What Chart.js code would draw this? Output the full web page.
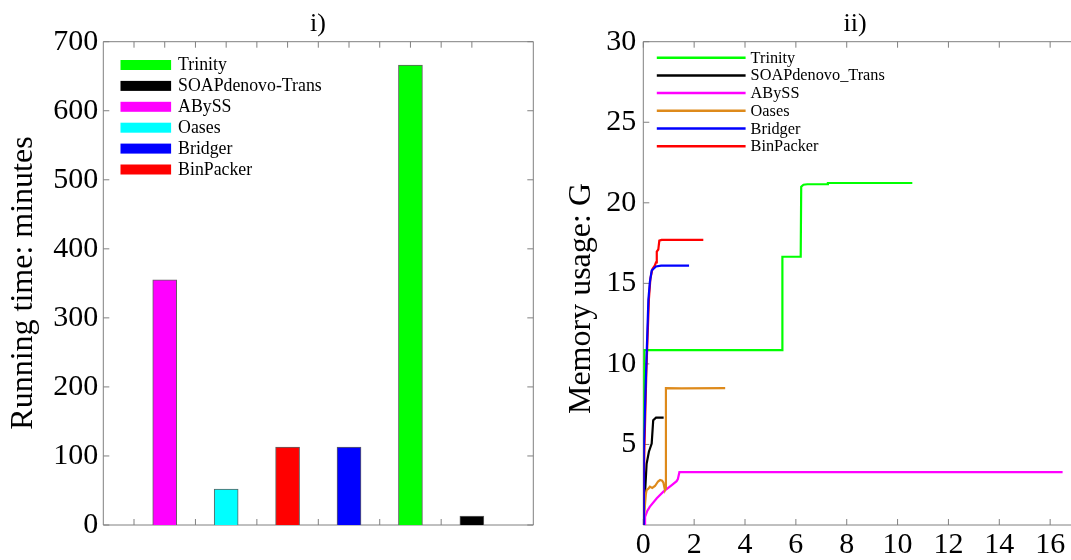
<!DOCTYPE html>
<html>
<head>
<meta charset="utf-8">
<script src="https://cdn.jsdelivr.net/npm/chart.js@4.4.1/dist/chart.umd.min.js"></script>
<style>
  html, body { margin: 0; padding: 0; background: #fff; overflow: hidden; width: 1071px; height: 560px; }
  #timeChart { position: absolute; left: 0; top: 0; }
  #memChart { position: absolute; left: 540px; top: 0; }
</style>
</head>
<body>
<canvas id="timeChart" width="540" height="560"></canvas>
<canvas id="memChart" width="561" height="560"></canvas>
<script>
const serif = '"Liberation Serif", "Times New Roman", serif';

// panel i) running time
const tools = ['Trinity', 'SOAPdenovo-Trans', 'ABySS', 'Oases', 'Bridger', 'BinPacker'];
const barColors = ['#00ff00', '#000000', '#ff00ff', '#00ffff', '#0000ff', '#ff0000'];
const runMinutes = [666, 13, 355, 52, 113, 113];
const barSlot = [5, 6, 1, 2, 4, 3];
const timeTicks = [0, 100, 200, 300, 400, 500, 600, 700];
const slotTicks = [0.5, 1, 1.5, 2, 2.5, 3, 3.5, 4, 4.5, 5, 5.5, 6];

// panel ii) memory usage, [hours, G]
const memTools = ['Trinity', 'SOAPdenovo_Trans', 'ABySS', 'Oases', 'Bridger', 'BinPacker'];
const lineColors = ['#00ff00', '#000000', '#ff00ff', '#de8a1b', '#0000ff', '#ff0000'];
const trinityMem = [[0, 0], [0.02, 6.5], [0.04, 10.85], [5.46, 10.85], [5.47, 16.65], [6.19, 16.65], [6.21, 21.0], [6.3, 21.12], [6.45, 21.15], [7.24, 21.15], [7.26, 21.23], [10.58, 21.23]];
const soapMem = [[0, 0], [0.13, 3.8], [0.22, 4.55], [0.33, 5.05], [0.39, 6.5], [0.5, 6.66], [0.8, 6.66]];
const abyssMem = [[0.07, 0], [0.07, 0.5], [0.15, 0.85], [0.26, 1.14], [0.53, 1.66], [0.79, 2.07], [1.12, 2.48], [1.31, 2.72], [1.36, 2.85], [1.42, 3.28], [16.49, 3.28]];
const oasesMem = [[0, 0], [0.1, 1.9], [0.13, 2.17], [0.2, 2.25], [0.26, 2.38], [0.35, 2.3], [0.46, 2.42], [0.58, 2.7], [0.66, 2.79], [0.74, 2.75], [0.79, 2.63], [0.85, 2.17], [0.88, 2.3], [0.89, 8.49], [1.5, 8.48], [3.22, 8.5]];
const bridgerMem = [[0, 0], [0.02, 4.7], [0.1, 9], [0.2, 14], [0.26, 15.1], [0.33, 15.8], [0.5, 16.05], [0.7, 16.1], [1.8, 16.1]];
const binpackerMem = [[0, 0], [0.04, 4.5], [0.12, 9.5], [0.22, 14], [0.28, 15.3], [0.36, 15.9], [0.45, 16.1], [0.5, 16.3], [0.53, 16.97], [0.59, 17.1], [0.63, 17.65], [0.72, 17.7], [2.36, 17.7]];
const memSeries = [trinityMem, soapMem, abyssMem, oasesMem, bridgerMem, binpackerMem];
const memTicks = [5, 10, 15, 20, 25, 30];
const hourTicks = [0, 2, 4, 6, 8, 10, 12, 14, 16];

// box with inward tick marks, matlab style
function makeFrame(xTicks, yTicks) {
  return {
    id: 'frame',
    beforeDatasetsDraw(chart) {
      const { ctx, chartArea: a, scales: { x, y } } = chart;
      const t = 6;
      ctx.save();
      ctx.strokeStyle = '#808080';
      ctx.lineWidth = 1;
      ctx.beginPath();
      ctx.moveTo(a.left, a.bottom);
      ctx.lineTo(a.left, a.top);
      ctx.lineTo(a.right, a.top);
      ctx.lineTo(a.right, a.bottom);
      ctx.closePath();
      xTicks.forEach(v => {
        const px = x.getPixelForValue(v);
        ctx.moveTo(px, a.bottom); ctx.lineTo(px, a.bottom - t);
        ctx.moveTo(px, a.top); ctx.lineTo(px, a.top + t);
      });
      yTicks.forEach(v => {
        const py = y.getPixelForValue(v);
        ctx.moveTo(a.left, py); ctx.lineTo(a.left + t, py);
        ctx.moveTo(a.right, py); ctx.lineTo(a.right - t, py);
      });
      ctx.stroke();
      ctx.restore();
    }
  };
}

// panel title, rotated axis title and the legend inside the box
function makeNotes(o) {
  return {
    id: 'notes',
    afterDraw(chart) {
      const ctx = chart.ctx;
      ctx.save();
      ctx.fillStyle = '#000';
      ctx.textBaseline = 'alphabetic';
      ctx.textAlign = 'center';
      ctx.font = '26px ' + serif;
      ctx.fillText(o.title, o.titleX, 30.5);

      ctx.save();
      ctx.translate(o.yTitleX, o.yTitleY);
      ctx.rotate(-Math.PI / 2);
      ctx.font = '32px ' + serif;
      ctx.fillText(o.yTitle, 0, 0);
      ctx.restore();

      ctx.textAlign = 'left';
      ctx.font = o.legendSize + 'px ' + serif;
      chart.data.datasets.forEach((ds, i) => {
        const yy = o.legendTop + i * o.legendGap;
        if (o.boxes) {
          ctx.fillStyle = ds.backgroundColor;
          ctx.fillRect(o.legendX, yy - 5, o.swatchW, 10);
        } else {
          ctx.strokeStyle = ds.borderColor;
          ctx.lineWidth = 2.5;
          ctx.beginPath();
          ctx.moveTo(o.legendX, yy);
          ctx.lineTo(o.legendX + o.swatchW, yy);
          ctx.stroke();
        }
        ctx.fillStyle = '#000';
        ctx.fillText(ds.label, o.legendX + o.swatchW + o.textGap, yy + 5);
      });
      ctx.restore();
    }
  };
}

const tickFont = { family: serif, size: 30 };

new Chart(document.getElementById('timeChart'), {
  type: 'bar',
  data: {
    datasets: tools.map((name, i) => ({
      label: name,
      data: [{ x: barSlot[i], y: runMinutes[i] }],
      backgroundColor: barColors[i],
      borderColor: '#606060',
      borderWidth: 1,
      barThickness: 24,
      grouped: false
    }))
  },
  options: {
    responsive: false,
    animation: false,
    layout: { padding: { top: 41.7, right: 6.7, left: 0, bottom: 0 } },
    scales: {
      x: {
        type: 'linear', min: 0, max: 7, offset: false,
        ticks: { display: false },
        grid: { display: false, offset: false },
        border: { display: false },
        afterFit: s => { s.height = 35; }
      },
      y: {
        min: 0, max: 700,
        afterBuildTicks: s => { s.ticks = timeTicks.map(v => ({ value: v })); },
        ticks: { padding: 5, color: '#000', font: tickFont },
        grid: { display: false, drawTicks: false },
        border: { display: false },
        afterFit: s => { s.width = 103.3; }
      }
    },
    plugins: { legend: { display: false }, tooltip: { enabled: false } }
  },
  plugins: [
    makeFrame(slotTicks, timeTicks),
    makeNotes({
      title: 'i)', titleX: 318,
      yTitle: 'Running time: minutes', yTitleX: 32, yTitleY: 283,
      boxes: true, legendX: 120.5, swatchW: 50.6, textGap: 7,
      legendTop: 65, legendGap: 20.9, legendSize: 17.8
    })
  ]
});

new Chart(document.getElementById('memChart'), {
  type: 'scatter',
  data: {
    datasets: memTools.map((name, i) => ({
      label: name,
      data: memSeries[i].map(p => ({ x: p[0], y: p[1] })),
      showLine: true,
      borderColor: lineColors[i],
      backgroundColor: lineColors[i],
      borderWidth: 2.2,
      pointRadius: 0,
      tension: 0,
      order: [5, 3, 4, 2, 0, 1][i]
    }))
  },
  options: {
    responsive: false,
    animation: false,
    layout: { padding: { top: 41.7, right: 0, left: 0, bottom: 0 } },
    scales: {
      x: {
        type: 'linear', min: 0, max: 18,
        afterBuildTicks: s => { s.ticks = hourTicks.map(v => ({ value: v })); },
        ticks: { padding: 2, color: '#000', font: tickFont, maxRotation: 0 },
        grid: { display: false, drawTicks: false },
        border: { display: false },
        afterFit: s => { s.height = 35; }
      },
      y: {
        min: 0, max: 30,
        afterBuildTicks: s => { s.ticks = memTicks.map(v => ({ value: v })); },
        ticks: { padding: 7, color: '#000', font: tickFont },
        grid: { display: false, drawTicks: false },
        border: { display: false },
        afterFit: s => { s.width = 103.3; }
      }
    },
    plugins: { legend: { display: false }, tooltip: { enabled: false } }
  },
  plugins: [
    makeFrame(hourTicks, memTicks),
    makeNotes({
      title: 'ii)', titleX: 315,
      yTitle: 'Memory usage: G', yTitleX: 50, yTitleY: 298.5,
      boxes: false, legendX: 116.8, swatchW: 88.8, textGap: 5,
      legendTop: 57.7, legendGap: 17.7, legendSize: 16.3
    })
  ]
});
</script>
</body>
</html>
